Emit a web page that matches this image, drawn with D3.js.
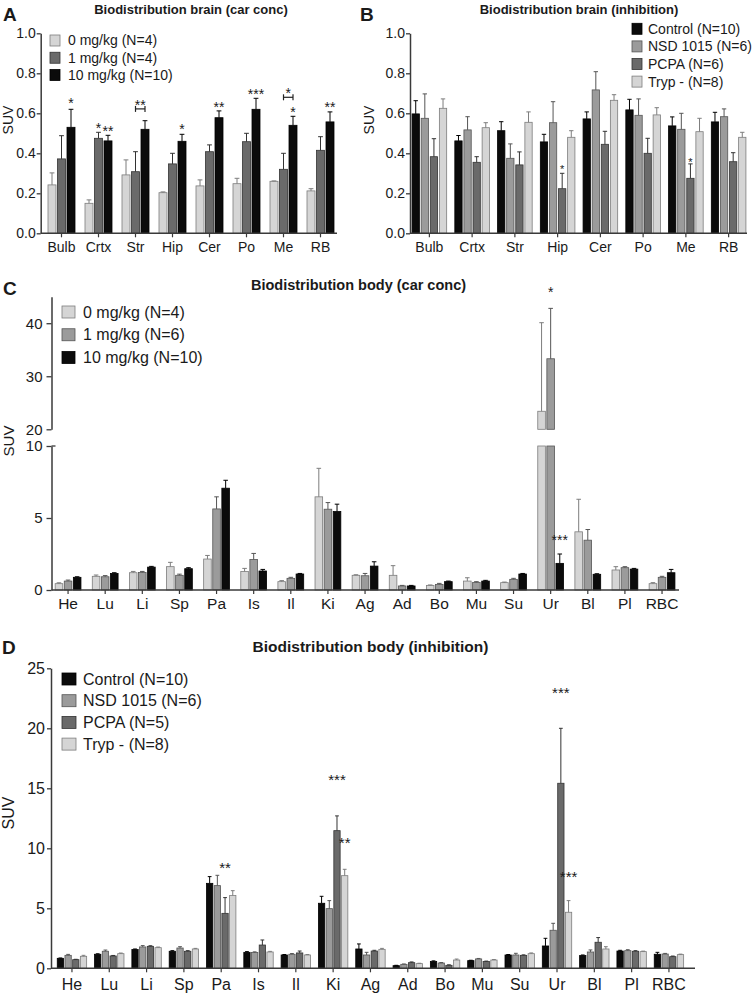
<!DOCTYPE html>
<html><head><meta charset="utf-8">
<script src="https://cdn.jsdelivr.net/npm/d3@7"></script>
<style>
body{margin:0;background:#fff;}
text{font-family:"Liberation Sans",Arial,Helvetica,sans-serif;fill:#1a1a1a;}
</style></head><body>
<svg id="chart" width="754" height="995"></svg>
<script>
// ---------- categories ----------
const brainRegions = ["Bulb","Crtx","Str","Hip","Cer","Po","Me","RB"];
const bodyOrgans = ["He","Lu","Li","Sp","Pa","Is","Il","Ki","Ag","Ad","Bo","Mu","Su","Ur","Bl","Pl","RBC"];

// ---------- Panel A: brain, carrier concentration (mean, SEM) ----------
const brainCar0   = [0.242,0.150,0.292,0.203,0.237,0.248,0.260,0.212];
const brainCar0E  = [0.060,0.017,0.075,0.004,0.030,0.027,0.002,0.011];
const brainCar1   = [0.372,0.475,0.308,0.347,0.408,0.458,0.320,0.415];
const brainCar1E  = [0.116,0.030,0.100,0.053,0.034,0.042,0.080,0.068];
const brainCar10  = [0.530,0.462,0.520,0.460,0.578,0.620,0.540,0.557];
const brainCar10E = [0.090,0.028,0.043,0.035,0.034,0.055,0.045,0.050];

// ---------- Panel B: brain, inhibition ----------
const brainCtrl  = [0.597,0.462,0.513,0.457,0.572,0.617,0.537,0.557];
const brainCtrlE = [0.066,0.027,0.045,0.038,0.035,0.053,0.045,0.048];
const brainNSD   = [0.575,0.517,0.375,0.553,0.717,0.590,0.520,0.583];
const brainNSDE  = [0.122,0.066,0.072,0.105,0.091,0.082,0.080,0.039];
const brainPCPA  = [0.383,0.355,0.342,0.223,0.445,0.400,0.275,0.358];
const brainPCPAE = [0.090,0.028,0.065,0.077,0.065,0.075,0.072,0.045];
const brainTryp  = [0.625,0.528,0.555,0.480,0.665,0.592,0.508,0.480];
const brainTrypE = [0.047,0.025,0.052,0.033,0.028,0.036,0.067,0.025];

// ---------- Panel C: body, carrier concentration ----------
const body0   = [0.44,0.95,1.20,1.62,2.15,1.29,0.58,6.47,1.02,1.02,0.32,0.62,0.51,23.4,4.04,1.39,0.44];
const body0E  = [0.06,0.09,0.09,0.30,0.25,0.21,0.07,1.98,0.04,0.67,0.03,0.23,0.04,16.7,2.26,0.23,0.07];
const body1   = [0.62,0.92,1.22,1.02,5.63,2.12,0.81,5.61,0.99,0.28,0.39,0.53,0.74,33.3,3.46,1.55,0.88];
const body1E  = [0.07,0.08,0.07,0.08,0.84,0.42,0.07,0.46,0.16,0.04,0.07,0.05,0.07,9.5,0.74,0.07,0.07];
const body10  = [0.88,1.15,1.59,1.48,7.07,1.32,1.11,5.45,1.66,0.28,0.58,0.62,1.11,1.85,1.09,1.45,1.20];
const body10E = [0.04,0.05,0.05,0.07,0.55,0.11,0.04,0.51,0.30,0.04,0.04,0.05,0.04,0.65,0.04,0.05,0.23];

// ---------- Panel D: body, inhibition ----------
const bodyCtrl  = [0.83,1.17,1.56,1.42,7.08,1.33,1.11,5.42,1.61,0.22,0.56,0.64,1.11,1.86,1.06,1.44,1.17];
const bodyCtrlE = [0.03,0.04,0.05,0.05,0.56,0.06,0.04,0.58,0.42,0.03,0.06,0.03,0.04,0.64,0.05,0.06,0.16];
const bodyNSD   = [1.08,1.42,1.78,1.69,6.89,1.31,1.17,4.97,1.11,0.33,0.44,0.78,1.11,3.17,1.36,1.47,1.19];
const bodyNSDE  = [0.08,0.10,0.11,0.11,0.86,0.06,0.06,0.67,0.22,0.03,0.04,0.04,0.14,0.58,0.17,0.08,0.05];
const bodyPCPA  = [0.72,1.03,1.83,1.42,4.58,1.94,1.28,11.47,1.44,0.47,0.25,0.56,1.08,15.42,2.17,1.42,0.97];
const bodyPCPAE = [0.03,0.04,0.05,0.05,1.31,0.42,0.16,1.23,0.06,0.06,0.04,0.04,0.04,4.58,0.39,0.05,0.05];
const bodyTryp  = [1.00,1.22,1.72,1.61,6.06,1.36,1.11,7.72,1.58,0.39,0.69,0.69,1.22,4.67,1.61,1.39,1.14];
const bodyTrypE = [0.08,0.05,0.05,0.05,0.41,0.05,0.04,0.53,0.08,0.03,0.08,0.04,0.06,0.97,0.19,0.04,0.04];

// ---------- tick labels / legend labels ----------
const brainTicks = [0,0.2,0.4,0.6,0.8,1.0];
const bodyCLowTicks = [0,5,10];
const bodyCHighTicks = [20,30,40];
const bodyDTicks = [0,5,10,15,20,25];
const carLegendA = ["0 mg/kg (N=4)","1 mg/kg (N=4)","10 mg/kg (N=10)"];
const carLegendC = ["0 mg/kg (N=4)","1 mg/kg (N=6)","10 mg/kg (N=10)"];
const inhLegendB = ["Control (N=10)","NSD 1015 (N=6)","PCPA (N=6)","Tryp - (N=8)"];
const inhLegendD = ["Control (N=10)","NSD 1015 (N=6)","PCPA (N=5)","Tryp - (N=8)"];

// ---------- significance marks: [category, series index, text, value of star] ----------
const starsA = [["Bulb",2,"*",0.67],["Crtx",1,"*",0.545],["Crtx",2,"**",0.53],["Hip",2,"*",0.54],
                ["Cer",2,"**",0.65],["Po",2,"***",0.713],["Me",2,"*",0.625],["RB",2,"**",0.647]];
const bracketsA = [["Str",1,2,"**",0.622,0.66],["Me",1,2,"*",0.68,0.718]];
const starsB = [["Hip",2,"*",0.333],["Me",2,"*",0.37]];
const starsC = [["Ur",1,"*",46.6],["Ur",2,"***",3.68]];
const starsD = [["Pa",2,"**",8.7],["Ki",2,"***",16.0],["Ki",3,"**",10.8],["Ur",2,"***",23.25],["Ur",3,"***",7.97]];

// ---------- styles ----------
const FILL   = {light:"#d5d5d5", mid:"#9b9b9b", dark:"#6a6a6a", black:"#0b0b0b"};
const STROKE = {light:"#7d7d7d", mid:"#555555", dark:"#333333", black:"#000000"};
const AXIS = "#3a3a3a";

const svg = d3.select("#chart");

function drawPanel(o) {
  const g = svg.append("g");
  const x = d3.scaleBand().domain(o.cats).range(o.xr);
  const n = o.series.length;
  const gw = n * o.bw + (n - 1) * o.gap;
  const bx = (ci, si) => x(o.cats[ci]) + x.bandwidth() / 2 - gw / 2 + si * (o.bw + o.gap);

  o.series.forEach((s, si) => {
    s.values.forEach((v, ci) => {
      const x0 = bx(ci, si);
      o.segments(v).forEach(([yb, yt]) => {
        g.append("rect").attr("x", x0).attr("y", yt).attr("width", o.bw).attr("height", Math.max(0, yb - yt))
          .attr("fill", FILL[s.tone]).attr("stroke", STROKE[s.tone]).attr("stroke-width", 0.8);
      });
      const yTop = o.y(v), yErr = o.y(v + s.errs[ci]);
      const cx = x0 + o.bw / 2;
      g.append("line").attr("x1", cx).attr("x2", cx).attr("y1", yTop).attr("y2", yErr)
        .attr("stroke", STROKE[s.tone]).attr("stroke-width", 1);
      g.append("line").attr("x1", cx - o.bw * 0.3).attr("x2", cx + o.bw * 0.3).attr("y1", yErr).attr("y2", yErr)
        .attr("stroke", STROKE[s.tone]).attr("stroke-width", 1);
    });
  });

  // x axis
  const xa = g.append("g").attr("transform", `translate(0,${o.x0y})`)
    .call(d3.axisBottom(x).tickSize(4).tickSizeOuter(0).tickPadding(o.xPad));
  xa.select(".domain").remove();
  xa.selectAll(".tick line").attr("stroke", AXIS).attr("stroke-width", 1.2);
  xa.selectAll("text").attr("font-size", o.xFont).attr("fill", "#1a1a1a").attr("font-family", '"Liberation Sans",Arial,sans-serif');
  g.append("line").attr("x1", o.axisX).attr("x2", o.xEnd).attr("y1", o.x0y).attr("y2", o.x0y)
    .attr("stroke", AXIS).attr("stroke-width", 1.5);

  // stars
  (o.stars || []).forEach(([cat, si, t, v]) => {
    const ci = o.cats.indexOf(cat);
    g.append("text").attr("x", bx(ci, si) + o.bw / 2).attr("y", o.y(v) + o.starFont * 0.6)
      .attr("text-anchor", "middle").attr("font-size", o.starFont).text(t);
  });
  (o.brackets || []).forEach(([cat, s1, s2, t, vb, vs]) => {
    const ci = o.cats.indexOf(cat);
    const xa1 = bx(ci, s1) + o.bw / 2, xa2 = bx(ci, s2) + o.bw / 2, yb = o.y(vb);
    g.append("line").attr("x1", xa1).attr("x2", xa2).attr("y1", yb).attr("y2", yb).attr("stroke", "#222").attr("stroke-width", 1.2);
    [xa1, xa2].forEach(xx => g.append("line").attr("x1", xx).attr("x2", xx).attr("y1", yb - 3).attr("y2", yb + 3).attr("stroke", "#222").attr("stroke-width", 1.2));
    g.append("text").attr("x", (xa1 + xa2) / 2).attr("y", o.y(vs) + o.starFont * 0.6)
      .attr("text-anchor", "middle").attr("font-size", o.starFont).text(t);
  });
  return {g, x, bx};
}

function styleY(sel, fs) {
  sel.select(".domain").attr("stroke", AXIS).attr("stroke-width", 1.5);
  sel.selectAll(".tick line").attr("stroke", AXIS).attr("stroke-width", 1.3);
  sel.selectAll("text").attr("font-size", fs).attr("fill", "#1a1a1a").attr("font-family", '"Liberation Sans",Arial,sans-serif');
}

function legend(items, tones, x0, y0, dy, sw, sh, tx, fs) {
  items.forEach((t, i) => {
    const yy = y0 + i * dy;
    svg.append("rect").attr("x", x0).attr("y", yy - sh / 2).attr("width", sw).attr("height", sh)
      .attr("fill", FILL[tones[i]]).attr("stroke", STROKE[tones[i]]).attr("stroke-width", 0.8);
    svg.append("text").attr("x", tx).attr("y", yy).attr("dy", "0.35em").attr("font-size", fs).text(t);
  });
}

function label(x, y, t, fs, weight, anchor) {
  svg.append("text").attr("x", x).attr("y", y).attr("font-size", fs).attr("font-weight", weight || "normal")
    .attr("text-anchor", anchor || "start").text(t);
}
function yLabel(x, y, fs) {
  svg.append("text").attr("transform", `translate(${x},${y}) rotate(-90)`).attr("text-anchor", "middle")
    .attr("font-size", fs).text("SUV");
}

// ================= Panel A =================
const yA = d3.scaleLinear().domain([0, 1]).range([233.3, 33.3]);
drawPanel({
  cats: brainRegions, xr: [43, 339], bw: 8, gap: 1.5, y: yA,
  segments: v => [[yA(0), yA(v)]],
  series: [
    {values: brainCar0, errs: brainCar0E, tone: "light"},
    {values: brainCar1, errs: brainCar1E, tone: "dark"},
    {values: brainCar10, errs: brainCar10E, tone: "black"}],
  x0y: 233.3, xPad: 4.5, xFont: 14, axisX: 40.7, xEnd: 337,
  stars: starsA, brackets: bracketsA, starFont: 14
});
styleY(svg.append("g").attr("transform", "translate(40.7,0)")
  .call(d3.axisLeft(yA).tickValues(brainTicks).tickFormat(d3.format(".1f")).tickSize(4).tickSizeOuter(0).tickPadding(1)), 14);
legend(carLegendA, ["light", "dark", "black"], 50, 40.5, 17.25, 10, 11, 68, 14);
label(3, 20.5, "A", 19, "bold");
label(191, 14, "Biodistribution brain (car conc)", 13, "bold", "middle");
yLabel(13, 120, 14);

// ================= Panel B =================
const yB = d3.scaleLinear().domain([0, 1]).range([233.3, 33.3]);
drawPanel({
  cats: brainRegions, xr: [408, 750], bw: 7.3, gap: 1.8, y: yB,
  segments: v => [[yB(0), yB(v)]],
  series: [
    {values: brainCtrl, errs: brainCtrlE, tone: "black"},
    {values: brainNSD, errs: brainNSDE, tone: "mid"},
    {values: brainPCPA, errs: brainPCPAE, tone: "dark"},
    {values: brainTryp, errs: brainTrypE, tone: "light"}],
  x0y: 233.3, xPad: 4.5, xFont: 14, axisX: 410, xEnd: 747,
  stars: starsB, starFont: 11
});
styleY(svg.append("g").attr("transform", "translate(410,0)")
  .call(d3.axisLeft(yB).tickValues(brainTicks).tickFormat(d3.format(".1f")).tickSize(4).tickSizeOuter(0).tickPadding(1)), 14);
legend(inhLegendB, ["black", "mid", "dark", "light"], 632, 28.8, 17.6, 10, 11, 648, 14);
label(360, 20.5, "B", 19, "bold");
label(579, 14, "Biodistribution brain (inhibition)", 13, "bold", "middle");
yLabel(373.5, 120, 14);

// ================= Panel C (broken axis) =================
const yCLow = d3.scaleLinear().domain([0, 10]).range([590, 446]);
const yCHigh = d3.scaleLinear().domain([20, 45]).range([429.3, 296.7]);
const yC = v => v <= 10 ? yCLow(v) : yCHigh(v);
drawPanel({
  cats: bodyOrgans, xr: [49.5, 680.6], bw: 7.6, gap: 1.5, y: yC,
  segments: v => v > 10 ? [[yCLow(0), yCLow(10)], [yCHigh(20), yCHigh(v)]] : [[yCLow(0), yCLow(v)]],
  series: [
    {values: body0, errs: body0E, tone: "light"},
    {values: body1, errs: body1E, tone: "mid"},
    {values: body10, errs: body10E, tone: "black"}],
  x0y: 590, xPad: 4, xFont: 15.5, axisX: 51.5, xEnd: 679,
  stars: starsC, starFont: 14
});
styleY(svg.append("g").attr("transform", "translate(51.5,0)")
  .call(d3.axisLeft(yCLow).tickValues(bodyCLowTicks).tickSize(5).tickSizeOuter(0).tickPadding(4)), 15);
styleY(svg.append("g").attr("transform", "translate(51.5,0)")
  .call(d3.axisLeft(yCHigh).tickValues(bodyCHighTicks).tickSize(5).tickSizeOuter(0).tickPadding(4)), 15);
svg.append("line").attr("x1", 51.5).attr("x2", 55.5).attr("y1", yCLow(10)).attr("y2", yCLow(10)).attr("stroke", AXIS).attr("stroke-width", 1.3);
legend(carLegendC, ["light", "mid", "black"], 62, 312, 22.75, 13, 12, 83, 16);
label(3, 295, "C", 19, "bold");
label(358.5, 290, "Biodistribution body (car conc)", 14.5, "bold", "middle");
yLabel(14, 441, 15);

// ================= Panel D =================
const yD = d3.scaleLinear().domain([0, 25]).range([968.3, 668.3]);
drawPanel({
  cats: bodyOrgans, xr: [53.3, 687.6], bw: 6.3, gap: 1.4, y: yD,
  segments: v => [[yD(0), yD(v)]],
  series: [
    {values: bodyCtrl, errs: bodyCtrlE, tone: "black"},
    {values: bodyNSD, errs: bodyNSDE, tone: "mid"},
    {values: bodyPCPA, errs: bodyPCPAE, tone: "dark"},
    {values: bodyTryp, errs: bodyTrypE, tone: "light"}],
  x0y: 968.3, xPad: 6, xFont: 16, axisX: 51, xEnd: 695,
  stars: starsD, starFont: 15
});
styleY(svg.append("g").attr("transform", "translate(51,0)")
  .call(d3.axisLeft(yD).tickValues(bodyDTicks).tickSize(4).tickSizeOuter(0).tickPadding(2)), 16);
legend(inhLegendD, ["black", "mid", "dark", "light"], 62, 679, 21.7, 14, 12, 83, 16);
label(2, 654, "D", 19, "bold");
label(370.5, 652, "Biodistribution body (inhibition)", 15.5, "bold", "middle");
yLabel(14, 813, 16);
</script>
</body></html>
